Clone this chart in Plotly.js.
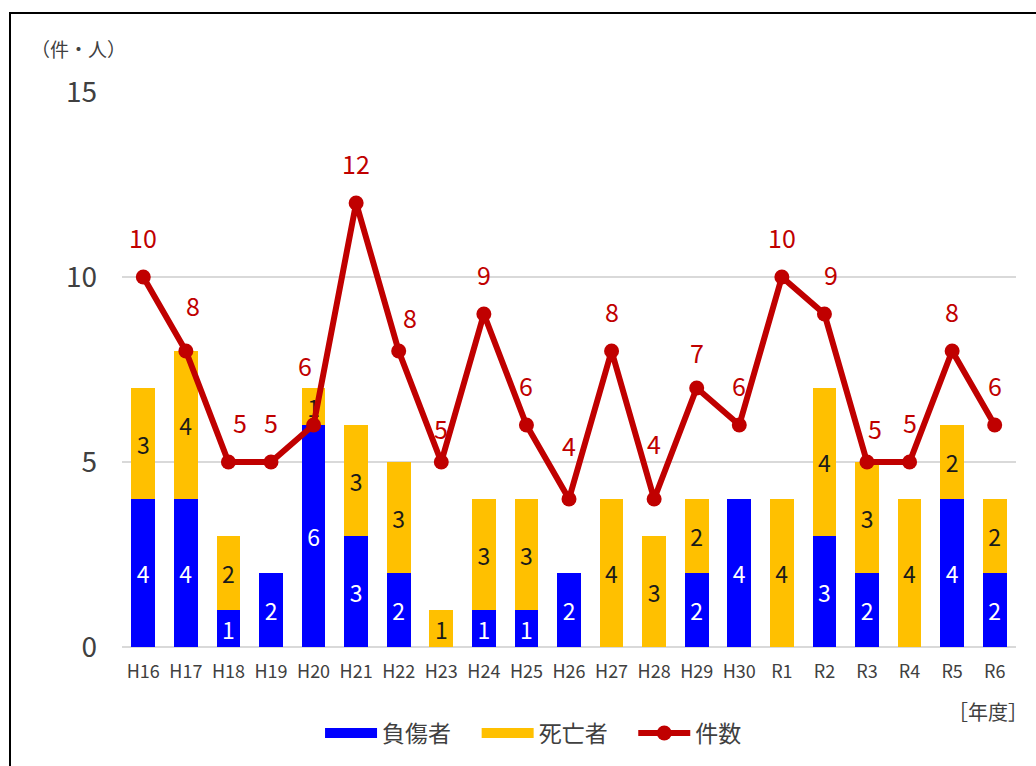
<!DOCTYPE html>
<html>
<head>
<meta charset="utf-8">
<script src="https://cdn.plot.ly/plotly-3.0.1.min.js"></script>
<style>
  html, body { margin:0; padding:0; background:#fff; overflow:hidden; width:1036px; height:766px; }
  #chart { width:1036px; height:766px; position:absolute; left:0; top:0; }
  #frame { position:absolute; left:9px; top:12px; width:1100px; height:900px; border:2.5px solid #000; pointer-events:none; }
</style>
</head>
<body>
<div id="chart"></div>
<div id="frame"></div>
<script>
const categories = ["H16","H17","H18","H19","H20","H21","H22","H23","H24","H25","H26","H27","H28","H29","H30","R1","R2","R3","R4","R5","R6"];
const injured    = [4,4,1,2,6,3,2,0,1,1,2,0,0,2,4,0,3,2,0,4,2];
const deaths     = [3,4,2,0,1,3,3,1,3,3,0,4,3,2,0,4,4,3,4,2,2];
const cases      = [10,8,5,5,6,12,8,5,9,6,4,8,4,7,6,10,9,5,5,8,6];

// style-only nudges for the line's data labels (pixels)
const labelNudge = { H17:{dx:7,dy:6}, H18:{dx:12}, H20:{dx:-9,dy:20}, H22:{dx:11,dy:-6}, H23:{dy:-6},
                     H26:{dy:14}, H28:{dy:16}, H29:{dy:-4}, R2:{dx:7}, R3:{dx:8,dy:-6} };

const FONT = '"Noto Sans CJK JP", "Noto Sans", sans-serif';
const BLUE = '#0000FF', YELLOW = '#FFC000', RED = '#C00000';
const lbl = arr => arr.map(v => v > 0 ? String(v) : '');
const NB = '\u00a0';

const traces = [
  { type:'bar', x:categories, y:injured, name:'負傷者', marker:{color:BLUE},
    text:lbl(injured), textposition:'inside', insidetextanchor:'middle', constraintext:'none',
    textfont:{family:FONT, size:23, color:'#ffffff'}, showlegend:false, hoverinfo:'skip' },
  { type:'bar', x:categories, y:deaths, name:'死亡者', marker:{color:YELLOW},
    text:lbl(deaths), textposition:'inside', insidetextanchor:'middle', constraintext:'none',
    textfont:{family:FONT, size:23, color:'#1a1a1a'}, showlegend:false, hoverinfo:'skip' },
  { type:'scatter', mode:'lines+markers', x:categories, y:cases, name:'件数',
    line:{color:RED, width:6}, marker:{color:RED, size:15}, showlegend:false },
  // legend entries
  { type:'scatter', mode:'lines', x:[categories[0]], y:[null], name:'負傷者' + NB.repeat(4), line:{color:BLUE, width:17} },
  { type:'scatter', mode:'lines', x:[categories[0]], y:[null], name:'死亡者' + NB.repeat(4), line:{color:YELLOW, width:17} },
  { type:'scatter', mode:'lines+markers', x:[categories[0]], y:[null], name:'件数', line:{color:RED, width:6}, marker:{color:RED, size:15} }
];

const annotations = categories.map((c, i) => {
  const n = labelNudge[c] || {};
  return {
    x:c, y:cases[i], xref:'x', yref:'y', text:String(cases[i]), showarrow:false,
    xshift:(n.dx || 0), yshift:40 + (n.dy || 0), font:{family:FONT, size:25, color:RED}
  };
});
annotations.push({ xref:'paper', yref:'paper', x:-0.104, y:1.079, xanchor:'left', yanchor:'middle',
  text:'（件・人）', showarrow:false, font:{family:FONT, size:19, color:'#404040'} });
annotations.push({ xref:'paper', yref:'paper', x:1.016, y:-0.117, xanchor:'right', yanchor:'middle',
  text:'［年度］', showarrow:false, font:{family:FONT, size:20, color:'#404040'} });

const layout = {
  width:1036, height:766,
  margin:{l:122, r:20, t:92, b:119},
  paper_bgcolor:'#fff', plot_bgcolor:'#fff',
  barmode:'stack', bargap:0.44,
  font:{family:FONT, color:'#404040'},
  xaxis:{ type:'category', range:[-0.5, categories.length - 0.5], autorange:false,
    tickfont:{family:FONT, size:18, color:'#404040'},
    showgrid:false, zeroline:false, showline:false, ticks:'', ticklabelstandoff:12 },
  yaxis:{ range:[0,15], autorange:false, tickvals:[0,5,10,15], tickfont:{family:FONT, size:28, color:'#404040'},
    showgrid:true, gridcolor:'#D9D9D9', gridwidth:1.5, zeroline:true, zerolinecolor:'#D9D9D9', zerolinewidth:2,
    showline:false, ticks:'', ticklabelstandoff:24 },
  legend:{ orientation:'h', xref:'container', yref:'container', x:0.515, y:0.043,
    xanchor:'center', yanchor:'middle', itemwidth:52, font:{family:FONT, size:23, color:'#404040'},
    traceorder:'normal', itemclick:false },
  annotations:annotations,
  showlegend:true
};

Plotly.newPlot('chart', traces, layout, {displayModeBar:false, staticPlot:true});
</script>
</body>
</html>
